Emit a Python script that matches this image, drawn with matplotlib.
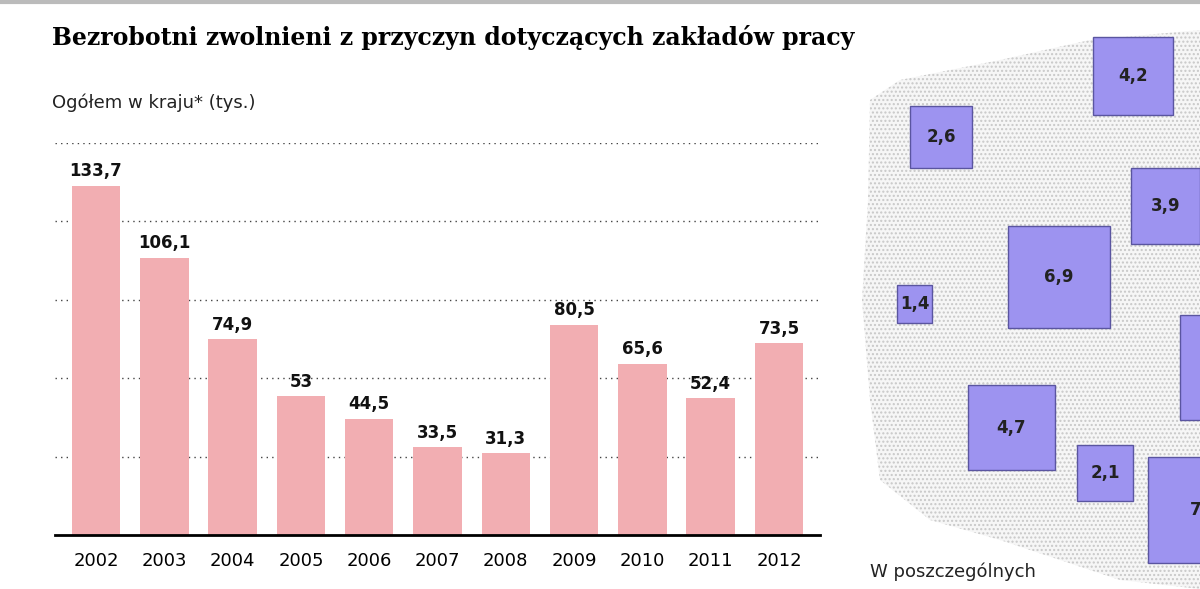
import matplotlib
matplotlib.use("Agg")
import matplotlib.pyplot as plt
from matplotlib.patches import Rectangle, Polygon

years = ["2002","2003","2004","2005","2006","2007","2008","2009","2010","2011","2012"]
values = [133.7,106.1,74.9,53,44.5,33.5,31.3,80.5,65.6,52.4,73.5]
labels = ["133,7","106,1","74,9","53","44,5","33,5","31,3","80,5","65,6","52,4","73,5"]
region_vals = ["4,2","2,6","3,9","6,9","1,4","4,7","2,1","","7"]
region_boxes = [(1093,37,80,78),(910,106,62,62),(1131,168,69,76),(1008,226,102,102),
                (897,285,35,38),(968,385,87,85),(1077,445,56,56),(1180,315,30,105),(1148,457,60,106)]

fig = plt.figure(figsize=(12,5.89), dpi=100)
bg = fig.add_axes([0,0,1,1]); bg.set_xlim(0,1200); bg.set_ylim(589,0); bg.axis("off")
plt.rcParams["hatch.color"] = "#c8c8c8"
poly = Polygon([(870,100),(900,80),(1000,60),(1090,40),(1200,30),(1200,589),(1120,580),(1000,540),
                (930,520),(880,480),(870,400),(862,300),(868,200)], closed=True,
               facecolor="#f6f6f6", edgecolor="#c8c8c8", lw=0, hatch="....")
bg.add_patch(poly)
for (x,y,w,h),t in zip(region_boxes, region_vals):
    bg.add_patch(Rectangle((x,y),w,h,facecolor="#9d93f0",edgecolor="#5a55a0",lw=1))
    tx = x+w/2 if x+w<=1200 else x+w-12
    bg.text(tx, y+h/2, t, ha="center", va="center", fontsize=12, fontweight="bold", color="#222")
bg.text(870,572,"W poszczególnych",fontsize=13,color="#222",va="center")
bg.plot([0,1200],[2,2],color="#bbb",lw=3)
fig.text(52/1200,1-38/589,"Bezrobotni zwolnieni z przyczyn dotyczących zakładów pracy",
         fontsize=17,fontweight="bold",family="DejaVu Serif",va="center")
fig.text(52/1200,1-103/589,"Ogółem w kraju* (tys.)",fontsize=13,color="#222",va="center")

ax = fig.add_axes([55/1200,1-535/589,765/1200,(535-143)/589])
x = range(len(years))
ax.bar(x, values, width=0.71, color="#f2aeb2")
for i,(v,l) in enumerate(zip(values,labels)):
    ax.text(i, v+2, l, ha="center", va="bottom", fontsize=12, fontweight="bold", color="#111")
ax.set_ylim(0,150); ax.set_xlim(-0.6,10.6)
ax.set_yticks([30,60,90,120,150])
ax.yaxis.grid(True, linestyle=(0,(1,3)), color="#444", lw=1)
ax.set_yticklabels([]); ax.tick_params(axis="y", length=0)
ax.set_xticks(list(x)); ax.set_xticklabels(years, fontsize=13)
ax.tick_params(axis="x", length=0, pad=12)
for s in ["top","right","left"]: ax.spines[s].set_visible(False)
ax.spines["bottom"].set_linewidth(2)
ax.set_axisbelow(True)
fig.savefig("out.png", dpi=100)
